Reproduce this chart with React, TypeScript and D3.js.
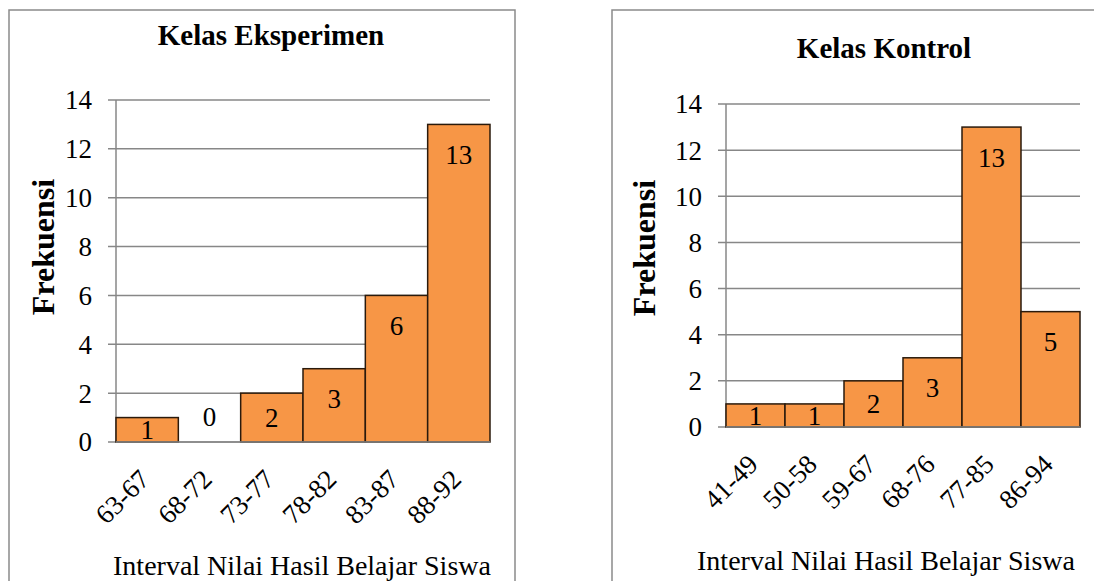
import React from "react";
import * as d3 from "d3";

const expCategories = ["63-67", "68-72", "73-77", "78-82", "83-87", "88-92"];
const expValues = [1, 0, 2, 3, 6, 13];
const ctrlCategories = ["41-49", "50-58", "59-67", "68-76", "77-85", "86-94"];
const ctrlValues = [1, 1, 2, 3, 13, 5];
const yTicks = [0, 2, 4, 6, 8, 10, 12, 14];
const titles = ["Kelas Eksperimen", "Kelas Kontrol"];
const yTitle = "Frekuensi";
const xTitle = "Interval Nilai Hasil Belajar Siswa";

const FONT = "Liberation Serif";
const GRID = "#878787";
const BAR = "#F79646";
const BAR_STROKE = "#2a1a0c";

type PanelProps = {
  frame: { x: number; y: number; w: number; h: number };
  plot: { left: number; right: number; top: number; bottom: number };
  title: string;
  titleX: number;
  titleY: number;
  yTitleX: number;
  yTitleY: number;
  xTitleX: number;
  xTitleY: number;
  categories: string[];
  values: number[];
};

function Panel(p: PanelProps) {
  const x = d3.scaleBand<string>().domain(p.categories).range([p.plot.left, p.plot.right]).padding(0);
  const y = d3.scaleLinear().domain([0, 14]).range([p.plot.bottom, p.plot.top]);
  const bw = x.bandwidth();
  return (
    <g>
      <rect x={p.frame.x} y={p.frame.y} width={p.frame.w} height={p.frame.h} fill="#fff" stroke="#8a8a8a" strokeWidth={1.5} />
      <text x={p.titleX} y={p.titleY} textAnchor="middle" fontFamily={FONT} fontWeight="bold" fontSize={29} fill="#000">
        {p.title}
      </text>
      {yTicks.map((t) => (
        <g key={t}>
          <line x1={p.plot.left - 8} x2={p.plot.right} y1={y(t)} y2={y(t)} stroke={GRID} strokeWidth={1.5} />
          <text x={p.plot.left - 24} y={y(t)} dy="0.35em" textAnchor="end" fontFamily={FONT} fontSize={27} fill="#000">
            {t}
          </text>
        </g>
      ))}
      <line x1={p.plot.left} x2={p.plot.left} y1={y(14)} y2={y(0)} stroke={GRID} strokeWidth={1.5} />
      {p.categories.map((c, i) => {
        const v = p.values[i];
        const x0 = x(c)!;
        const top = y(v);
        const mid = (top + y(0)) / 2;
        const labelY = v > 0 ? Math.min(top + 30, mid) : y(0) - 25;
        return (
          <g key={c}>
            {v > 0 && (
              <rect x={x0} y={top} width={bw} height={y(0) - top} fill={BAR} stroke={BAR_STROKE} strokeWidth={1.5} />
            )}
            <text x={x0 + bw / 2} y={labelY} dy="0.35em" textAnchor="middle" fontFamily={FONT} fontSize={27} fill="#000">
              {v}
            </text>
            <text
              transform={`translate(${x0 + bw / 2 + 4},${y(0) + 39}) rotate(-45)`}
              textAnchor="end"
              fontFamily={FONT}
              fontSize={27}
              fill="#000"
            >
              {c}
            </text>
          </g>
        );
      })}
      <line x1={p.plot.left} x2={p.plot.right} y1={y(0)} y2={y(0)} stroke={GRID} strokeWidth={1.5} />
      <text
        transform={`translate(${p.yTitleX},${p.yTitleY}) rotate(-90)`}
        textAnchor="middle"
        fontFamily={FONT}
        fontWeight="bold"
        fontSize={32}
        fill="#000"
      >
        {yTitle}
      </text>
      <text x={p.xTitleX} y={p.xTitleY} textAnchor="middle" fontFamily={FONT} fontSize={28} fill="#000">
        {xTitle}
      </text>
    </g>
  );
}

export default function App() {
  return (
    <svg width={1094} height={581} style={{ position: "absolute", left: 0, top: 0, background: "#fff" }}>
      <rect x={0} y={0} width={1094} height={581} fill="#fff" />
      <Panel
        frame={{ x: 9, y: 10, w: 506, h: 600 }}
        plot={{ left: 116, right: 490, top: 100, bottom: 442 }}
        title={titles[0]}
        titleX={271}
        titleY={45}
        yTitleX={54}
        yTitleY={247}
        xTitleX={302}
        xTitleY={575}
        categories={expCategories}
        values={expValues}
      />
      <Panel
        frame={{ x: 612, y: 10, w: 520, h: 600 }}
        plot={{ left: 726, right: 1080, top: 104, bottom: 427 }}
        title={titles[1]}
        titleX={884}
        titleY={58}
        yTitleX={655}
        yTitleY={248}
        xTitleX={886}
        xTitleY={570}
        categories={ctrlCategories}
        values={ctrlValues}
      />
    </svg>
  );
}
